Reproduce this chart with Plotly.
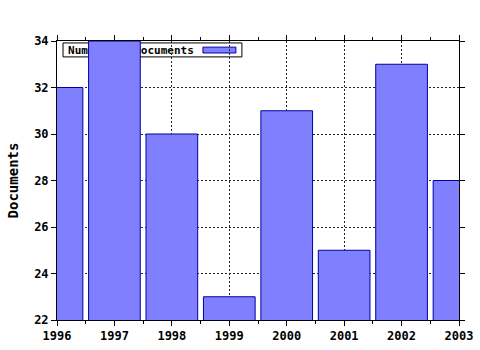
import plotly.graph_objects as go

years = [1996, 1997, 1998, 1999, 2000, 2001, 2002, 2003]
documents = [32, 34, 30, 23, 31, 25, 33, 28]
y_ticks = [22, 24, 26, 28, 30, 32, 34]
series_name = "Number of documents"
y_title = "Documents"

font = dict(family="DejaVu Sans Mono", size=12, color="black")

fig = go.Figure()
fig.add_trace(go.Bar(
    x=years, y=documents, name=series_name, width=0.9,
    marker=dict(color="#8080ff", line=dict(color="#0000a0", width=1)),
    showlegend=False,
))

# legend box drawn beneath the bars (as in the reference)
fig.add_shape(type="rect", xref="paper", yref="paper", x0=0.015, x1=0.460, y0=0.943, y1=0.993,
              layer="between", fillcolor="white", line=dict(color="black", width=1),
              label=dict(text="<b>" + series_name + "</b>", textposition="middle left",
                         font=dict(family="DejaVu Sans Mono", size=11, color="black"),
                         padding=2))
fig.add_shape(type="rect", xref="paper", yref="paper", x0=0.363, x1=0.445, y0=0.957, y1=0.978,
              layer="between", fillcolor="#8080ff", line=dict(color="#0000a0", width=1))

grid = dict(showgrid=True, gridcolor="#222222", griddash="2px,2px", gridwidth=1)

fig.update_layout(
    width=480, height=350,
    margin=dict(l=57, r=21, t=41, b=30),
    paper_bgcolor="white", plot_bgcolor="white",
    font=font,
    xaxis=dict(range=[1996, 2003], tickvals=years, ticktext=["<b>%d</b>" % y for y in years],
               **grid,
               showline=True, linecolor="black", linewidth=1, mirror="allticks",
               ticks="outside", ticklen=5, tickcolor="black",
               minor=dict(dtick=0.5, tick0=1996, ticks="outside", ticklen=3, tickcolor="black", showgrid=False),
               zeroline=False, fixedrange=True, automargin=False),
    yaxis=dict(range=[22, 34], tickvals=y_ticks,
               ticktext=["<b>%d</b>" % v for v in y_ticks],
               **grid,
               showline=True, linecolor="black", linewidth=1, mirror="allticks",
               ticks="outside", ticklen=5, tickcolor="black",
               title=dict(text="<b>" + y_title + "</b>", standoff=12),
               zeroline=False, fixedrange=True, automargin=False),
)

fig.write_html("out.html")
